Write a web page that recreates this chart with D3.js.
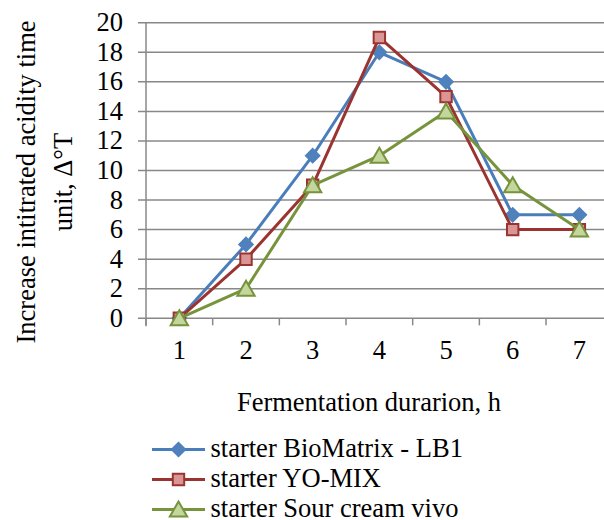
<!DOCTYPE html>
<html>
<head>
<meta charset="utf-8">
<script src="https://cdn.jsdelivr.net/npm/d3@7"></script>
</head>
<body style="margin:0">
<div id="chart"></div>
<script>
// hours on the x axis
const hours = [1, 2, 3, 4, 5, 6, 7];
const yTicks = [0, 2, 4, 6, 8, 10, 12, 14, 16, 18, 20];

// series values
const bioMatrix = [0, 5, 11, 18, 16, 7, 7];
const yoMix = [0, 4, 9, 19, 15, 6, 6];
const sourCream = [0, 2, 9, 11, 14, 9, 6];

const seriesNames = ["starter BioMatrix - LB1", "starter YO-MIX", "starter Sour cream vivo"];

const width = 604;
const height = 520;
const margins = { top: 22.7, bottom: 201.7, left: 146, right: -8.7 };
const serifFont = '"Liberation Serif", "Times New Roman", serif';
const fontSize = "26.5px";

const series = [
  { name: seriesNames[0], values: bioMatrix, line: "#4a7ebb", fill: "#4f81bd", stroke: "#4f81bd", shape: "diamond" },
  { name: seriesNames[1], values: yoMix, line: "#9b3431", fill: "#d99694", stroke: "#9b3431", shape: "square" },
  { name: seriesNames[2], values: sourCream, line: "#77933c", fill: "#c3d69b", stroke: "#77933c", shape: "triangle" }
];

const xScale = d3.scaleBand()
  .domain(hours)
  .range([margins.left, width - margins.right]);

const yScale = d3.scaleLinear()
  .domain([0, 20])
  .range([height - margins.bottom, margins.top]);

const svg = d3.select("#chart")
  .append("svg")
  .attr("width", width)
  .attr("height", height);

// horizontal gridlines
svg.selectAll("line.grid")
  .data(yTicks)
  .join("line")
  .attr("class", "grid")
  .attr("x1", margins.left - 8)
  .attr("x2", width - margins.right)
  .attr("y1", d => yScale(d))
  .attr("y2", d => yScale(d))
  .attr("stroke", "#888")
  .attr("stroke-width", 1.5);

// y axis line
svg.append("line")
  .attr("x1", margins.left).attr("x2", margins.left)
  .attr("y1", yScale(20)).attr("y2", yScale(0) + 8)
  .attr("stroke", "#888").attr("stroke-width", 1.5);

// x tick marks at band edges
const edges = hours.map(h => xScale(h)).concat([xScale(7) + xScale.bandwidth()]);
svg.selectAll("line.xtick")
  .data(edges)
  .join("line")
  .attr("class", "xtick")
  .attr("x1", d => d).attr("x2", d => d)
  .attr("y1", yScale(0)).attr("y2", yScale(0) + 7)
  .attr("stroke", "#888").attr("stroke-width", 1.5);

// y tick labels
svg.selectAll("text.ylab")
  .data(yTicks)
  .join("text")
  .attr("class", "ylab")
  .attr("x", margins.left - 23)
  .attr("y", d => yScale(d) + 8.5)
  .attr("text-anchor", "end")
  .style("font-family", serifFont)
  .style("font-size", fontSize)
  .text(d => d);

// x tick labels
svg.selectAll("text.xlab")
  .data(hours)
  .join("text")
  .attr("class", "xlab")
  .attr("x", d => xScale(d) + xScale.bandwidth() / 2)
  .attr("y", yScale(0) + 41)
  .attr("text-anchor", "middle")
  .style("font-family", serifFont)
  .style("font-size", fontSize)
  .text(d => d);

// axis titles
svg.append("text")
  .attr("x", 369)
  .attr("y", 411)
  .attr("text-anchor", "middle")
  .style("font-family", serifFont)
  .style("font-size", fontSize)
  .text("Fermentation durarion, h");

svg.append("text")
  .attr("transform", "translate(35,182) rotate(-90)")
  .attr("text-anchor", "middle")
  .style("font-family", serifFont)
  .style("font-size", fontSize)
  .text("Increase intitrated acidity time");

svg.append("text")
  .attr("transform", "translate(72,182) rotate(-90)")
  .attr("text-anchor", "middle")
  .style("font-family", serifFont)
  .style("font-size", fontSize)
  .text("unit, \u0394\u00b0T");

// markers
const symbolSize = { diamond: 90, square: 130, triangle: 130 };
const symbolGen = s => d3.symbol()
  .type(s.shape === "triangle" ? d3.symbolTriangle : d3.symbolSquare)
  .size(symbolSize[s.shape])();
const markerTransform = (s, x, y) =>
  `translate(${x},${y + (s.shape === "triangle" ? 2 : 0)})` + (s.shape === "diamond" ? " rotate(45)" : "");

const line = d3.line()
  .x((d, i) => xScale(hours[i]) + xScale.bandwidth() / 2)
  .y(d => yScale(d));

series.forEach(s => {
  svg.append("path")
    .attr("d", line(s.values))
    .attr("fill", "none")
    .attr("stroke", s.line)
    .attr("stroke-width", 3)
    .attr("stroke-linejoin", "round");
  svg.selectAll(null)
    .data(s.values)
    .join("path")
    .attr("transform", (d, i) => markerTransform(s, xScale(hours[i]) + xScale.bandwidth() / 2, yScale(d)))
    .attr("d", symbolGen(s))
    .attr("fill", s.fill)
    .attr("stroke", s.stroke)
    .attr("stroke-width", 2);
});

// legend
const legend = svg.selectAll("g.legend")
  .data(series)
  .join("g")
  .attr("class", "legend")
  .attr("transform", (d, i) => `translate(152,${449.5 + i * 30})`);

legend.append("line")
  .attr("x1", 0).attr("x2", 53)
  .attr("stroke", d => d.line)
  .attr("stroke-width", 3);

legend.append("path")
  .attr("transform", d => markerTransform(d, 26.5, 0))
  .attr("d", d => symbolGen(d))
  .attr("fill", d => d.fill)
  .attr("stroke", d => d.stroke)
  .attr("stroke-width", 2);

legend.append("text")
  .attr("x", 58.5)
  .attr("y", 7.5)
  .style("font-family", serifFont)
  .style("font-size", fontSize)
  .text(d => d.name);
</script>
</body>
</html>
